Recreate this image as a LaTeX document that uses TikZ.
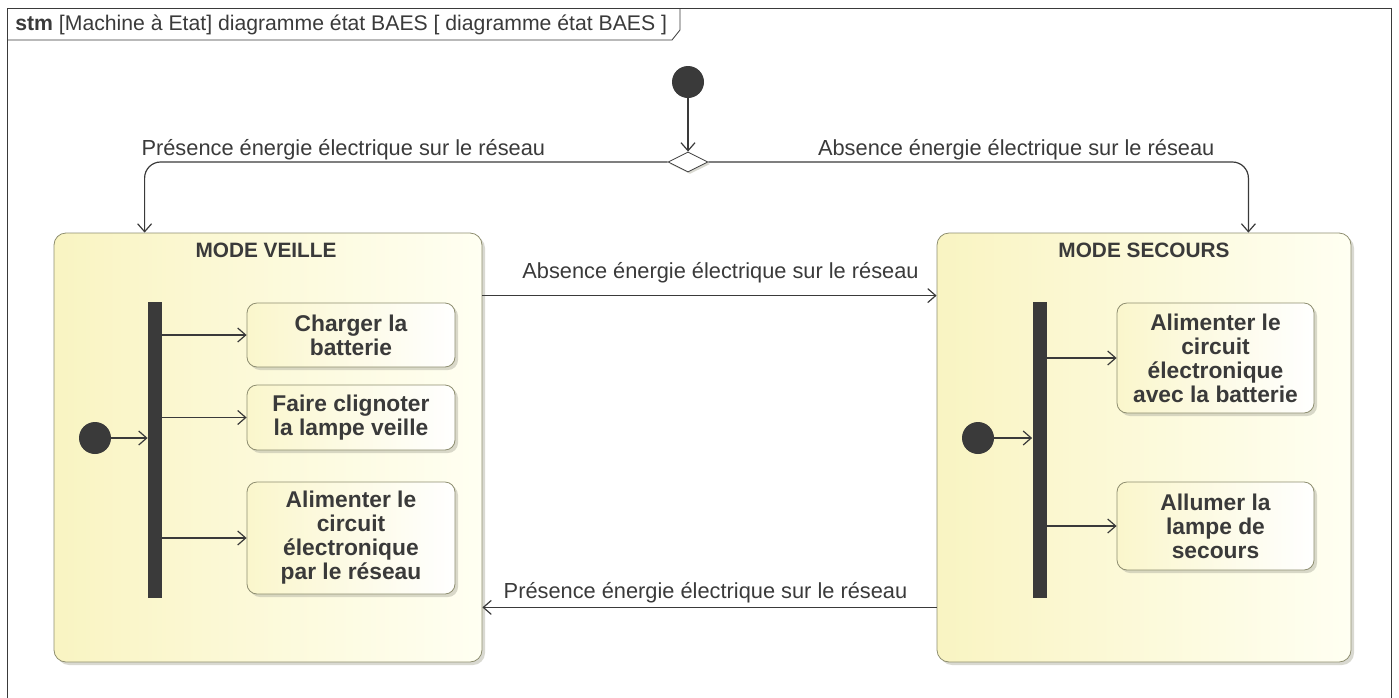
\documentclass[tikz,border=0pt]{standalone}
\usepackage{fontspec}
\setmainfont{Liberation Sans}
\usepackage{tikz}
\usetikzlibrary{positioning,arrows.meta,shapes.geometric,shadows}
\definecolor{lnC}{HTML}{3A3A3A}
\definecolor{bdC}{HTML}{8E8E70}
\definecolor{ylC}{HTML}{F9F4C2}
\definecolor{ltC}{HTML}{FFFFF2}
\definecolor{shC}{HTML}{B4B4A4}

\begin{document}
\begin{tikzpicture}[
  x=0.5pt,y=-0.5pt,
  state/.style={draw=bdC,rounded corners=6pt,left color=ylC,right color=ltC,
    drop shadow={shadow xshift=1.5pt,shadow yshift=-1.5pt,fill=shC},inner sep=0pt},
  act/.style={draw=bdC,rounded corners=5pt,left color=ylC!80!ltC,right color=white,
    drop shadow={shadow xshift=1.5pt,shadow yshift=-1.5pt,fill=shC},
    align=center,font=\fontsize{11.4}{12}\selectfont\bfseries,text=lnC,inner sep=0pt},
  bar/.style={fill=lnC,minimum width=7pt,minimum height=148pt,inner sep=0pt},
  init/.style={circle,fill=lnC,minimum size=16pt,inner sep=0pt},
  choice/.style={diamond,draw=lnC,fill=white,minimum width=20pt,minimum height=10pt,
    aspect=2,inner sep=0pt,drop shadow={shadow xshift=1pt,shadow yshift=-1pt,fill=shC}},
  lbl/.style={font=\fontsize{10.9}{12}\selectfont,text=lnC},
  ttl/.style={font=\fontsize{10.4}{12}\selectfont\bfseries,text=lnC},
  arr/.style={-{Straight Barb[length=4pt,width=7pt]},draw=lnC,semithick}]
\useasboundingbox (0,0) rectangle (1399,697);
% frame and tab
\draw[lnC] (7,703) -- (7,8) -- (1391,8) -- (1391,703);
\draw[lnC] (7,40) -- (672,40) -- (680,30) -- (680,8);
\node[anchor=west,font=\fontsize{10.6}{12}\selectfont,text=lnC,inner sep=0pt] (tab) at (15,25)
  {\textbf{stm} [Machine à Etat] diagramme état BAES [ diagramme état BAES ]};
% top pseudo states
\node[init] (ini) at (688,82) {};
\node[choice] (dec) at (688,162) {};
% composite states
\node[state,minimum width=214pt,minimum height=214.5pt] (veille) at (268,447.5) {};
\node[state,minimum width=207pt,minimum height=214.5pt] (secours) at (1144,447.5) {};
\node[ttl] (tveille) at (266,250) {MODE VEILLE};
\node[ttl] (tsecours) at (1144,250) {MODE SECOURS};
% inside MODE VEILLE
\node[bar] (barV) at (155,450) {};
\node[init] (iniV) at (95,438) {};
\node[act,minimum width=104pt,minimum height=32pt] (chg) at (351,335) {Charger la\\batterie};
\node[act,minimum width=104pt,minimum height=32.5pt] (clig) at (351,417.5) {Faire clignoter\\la lampe veille};
\node[act,minimum width=104pt,minimum height=56pt] (alimR) at (351,538) {Alimenter le\\circuit\\électronique\\par le réseau};
% inside MODE SECOURS
\node[bar] (barS) at (1039.5,450) {};
\node[init] (iniS) at (978,438) {};
\node[act,minimum width=98.5pt,minimum height=55pt] (alimB) at (1215.5,358) {Alimenter le\\circuit\\électronique\\avec la batterie};
\node[act,minimum width=98.5pt,minimum height=44pt] (lampe) at (1215.5,526) {Allumer la\\lampe de\\secours};
% transitions
\draw[arr] (ini) -- (dec.north);
\draw[arr,rounded corners=8pt] (dec.west) -| ([xshift=45.5pt]veille.north west)
  node[lbl,pos=0.31,above=-2.5pt] {Présence énergie électrique sur le réseau};
\draw[arr,rounded corners=8pt] (dec.east) -| ([xshift=-51.5pt]secours.north east)
  node[lbl,pos=0.285,above=-2.5pt] {Absence énergie électrique sur le réseau};
\draw[arr] ([yshift=-31.5pt]veille.north east) -- ([yshift=-31.5pt]secours.north west)
  node[lbl,midway,above=2.5pt,xshift=5.5pt] {Absence énergie électrique sur le réseau};
\draw[arr] ([yshift=27.5pt]secours.south west) -- ([yshift=27.5pt]veille.south east)
  node[lbl,midway,above=-1.5pt,xshift=-2pt] {Présence énergie électrique sur le réseau};
\draw[arr] (iniV) -- (iniV -| barV.west);
\draw[arr] (barV.east |- chg.west) -- (chg.west);
\draw[arr] (barV.east |- clig.west) -- (clig.west);
\draw[arr] (barV.east |- alimR.west) -- (alimR.west);
\draw[arr] (iniS) -- (iniS -| barS.west);
\draw[arr] (barS.east |- alimB.west) -- (alimB.west);
\draw[arr] (barS.east |- lampe.west) -- (lampe.west);
\end{tikzpicture}
\end{document}
